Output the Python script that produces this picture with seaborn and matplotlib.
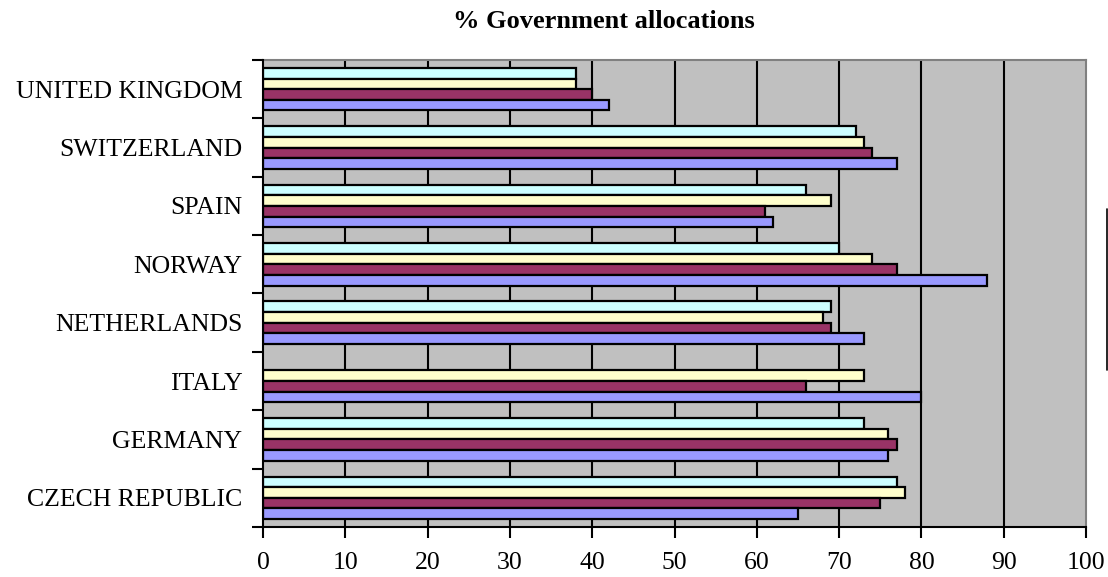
import numpy as np
import pandas as pd
import matplotlib
matplotlib.use("Agg")
import matplotlib.pyplot as plt
from matplotlib.lines import Line2D
import seaborn as sns

# Categories listed top-to-bottom as displayed
countries = ["UNITED KINGDOM", "SWITZERLAND", "SPAIN", "NORWAY",
             "NETHERLANDS", "ITALY", "GERMANY", "CZECH REPUBLIC"]
# Series (Excel order: series 1 drawn lowest in each group)
series_1 = [42, 77, 62, 88, 73, 80, 76, 65]          # periwinkle
series_2 = [40, 74, 61, 77, 69, 66, 77, 75]          # maroon
series_3 = [38, 73, 69, 74, 68, 73, 76, 78]          # light yellow
series_4 = [38, 72, 66, 70, 69, np.nan, 73, 77]      # light cyan
series_names = ["Series 1", "Series 2", "Series 3", "Series 4"]
series_colors = ["#9999FF", "#993366", "#FFFFCC", "#CCFFFF"]
x_ticks = [0, 10, 20, 30, 40, 50, 60, 70, 80, 90, 100]
title = "% Government allocations"

rows = []
for name, vals in zip(series_names, [series_1, series_2, series_3, series_4]):
    for c, v in zip(countries, vals):
        rows.append({"country": c, "series": name, "value": v})
df = pd.DataFrame(rows)

sns.set_theme(style="white")
plt.rcParams["font.family"] = ["Liberation Serif", "DejaVu Serif"]
plt.rcParams["text.color"] = "black"
plt.rcParams["xtick.color"] = "black"
plt.rcParams["ytick.color"] = "black"

fig = plt.figure(figsize=(11.08, 5.77), dpi=100)
ax = fig.add_axes([263 / 1108, 1 - 527 / 577, (1086 - 263) / 1108, (527 - 60) / 577])
ax.set_facecolor("#C0C0C0")

hue_order = series_names[::-1]  # top bar in each group = series 4
palette = dict(zip(series_names, series_colors))
sns.barplot(data=df, y="country", x="value", hue="series", order=countries,
            hue_order=hue_order, palette=palette, orient="h",
            width=4 / 5.5, edgecolor="black", linewidth=1.6,
            saturation=1, legend=False, ax=ax, zorder=3)

ax.set_xlim(0, 100)
ax.set_ylim(len(countries) - 0.5, -0.5)
ax.set_xticks(x_ticks)
ax.set_xticklabels([str(t) for t in x_ticks], fontsize=18.5, color="black")
ax.set_xlabel("")
ax.set_ylabel("")
ax.tick_params(axis="x", direction="out", length=8, width=1.5, color="black",
               pad=10, bottom=True)
# y labels at category centers, tick marks at category boundaries
ax.set_yticks(range(len(countries)))
ax.set_yticklabels(countries, fontsize=18.5, color="black")
ax.tick_params(axis="y", which="major", length=0, pad=15)
ax.set_yticks(np.arange(-0.5, len(countries), 1.0), minor=True)
ax.tick_params(axis="y", which="minor", direction="out", length=8, width=1.5,
               color="black", left=True)

for t in x_ticks[1:-1]:
    ax.axvline(t, color="black", lw=1.5, zorder=1)

for s in ["left", "bottom"]:
    ax.spines[s].set_color("black")
    ax.spines[s].set_linewidth(1.5)
    ax.spines[s].set_zorder(5)
for s in ["top", "right"]:
    ax.spines[s].set_color("#808080")
    ax.spines[s].set_linewidth(1.5)

fig.text(604 / 1108, 1 - 21 / 577, title, ha="center", va="center",
         fontsize=19, fontweight="bold", color="black")

# cut-off legend frame edge at the right border of the figure
fig.add_artist(Line2D([1106.5 / 1108, 1106.5 / 1108],
                      [1 - 209 / 577, 1 - 370 / 577], color="black", lw=1.2))

fig.savefig("out.png", dpi=100, facecolor="white")
